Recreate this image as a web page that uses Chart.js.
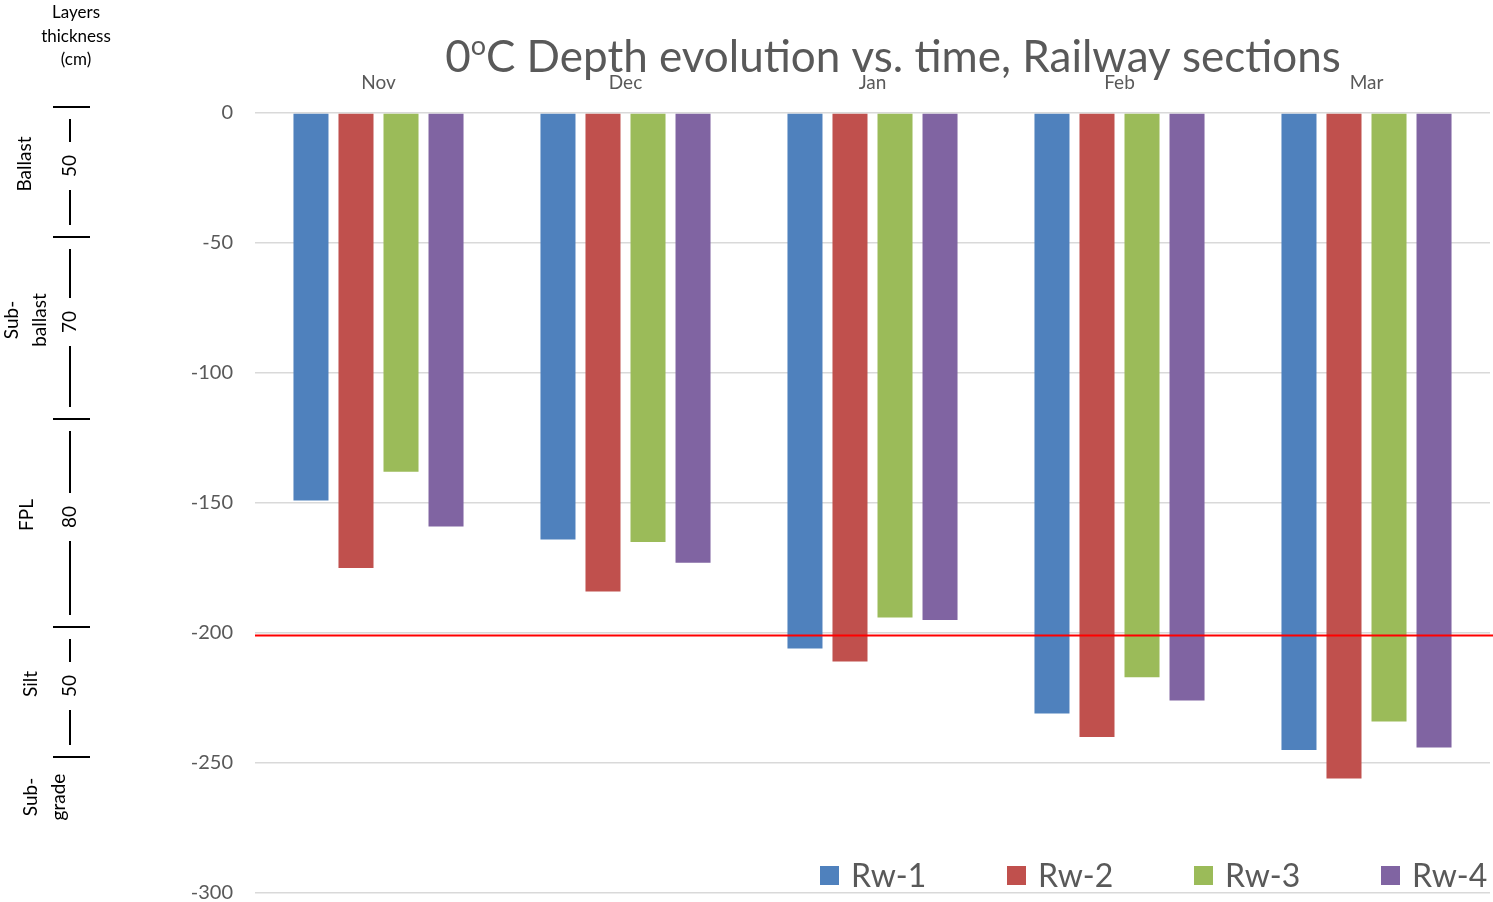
<!DOCTYPE html>
<html>
<head>
<meta charset="utf-8">
<script src="https://cdn.jsdelivr.net/npm/chart.js@4.4.1/dist/chart.umd.min.js"></script>
<style>
html,body{margin:0;padding:0;background:#fff}
#wrap{width:1493px;height:902px}
</style>
</head>
<body>
<div id="wrap"><canvas id="c" width="1493" height="902"></canvas></div>
<script>
// data (cm, negative = depth below surface)
const months=['Nov','Dec','Jan','Feb','Mar'];
const rw1=[-149,-164,-206,-231,-245];
const rw2=[-175,-184,-211,-240,-256];
const rw3=[-138,-165,-194,-217,-234];
const rw4=[-159,-173,-195,-226,-244];
const seriesNames=['Rw-1','Rw-2','Rw-3','Rw-4'];
const seriesColors=['#4F81BD','#C0504D','#9BBB59','#8064A2'];
const yMin=-300, yMax=0, yStep=50;
const frostLine=-201;
// layer panel on the left
const layerNames=[['Ballast'],['Sub-','ballast'],['FPL'],['Silt'],['Sub-','grade']];
const layerThick=[50,70,80,50];

const FONT='Lato, "Open Sans", sans-serif';
const GREY='#595959';

// title with superscript o
const titlePlugin={id:'title0',afterDraw(ch){
  const ctx=ch.ctx;ctx.save();ctx.fillStyle=GREY;ctx.textBaseline='alphabetic';
  const big='44px '+FONT, small='27px '+FONT;
  const parts=[['0',big,0],['o',small,-17],['C Depth evolution vs. time, Railway sections',big,0]];
  let w=0;for(const p of parts){ctx.font=p[1];w+=ctx.measureText(p[0]).width;}
  let x=893-w/2;
  for(const p of parts){ctx.font=p[1];ctx.textAlign='left';ctx.fillText(p[0],x,72+p[2]);x+=ctx.measureText(p[0]).width;}
  ctx.restore();
}};

// freezing reference line
const linePlugin={id:'frost',afterDatasetsDraw(ch){
  const y=ch.scales.y.getPixelForValue(frostLine);const ctx=ch.ctx;
  ctx.save();ctx.strokeStyle='#FF0000';ctx.lineWidth=2;ctx.beginPath();ctx.moveTo(ch.chartArea.left,y);ctx.lineTo(ch.width,y);ctx.stroke();ctx.restore();
}};

// legend inside bottom of plot
const legendPlugin={id:'leg',afterDraw(ch){
  const ctx=ch.ctx;ctx.save();ctx.font='32px '+FONT;ctx.textBaseline='alphabetic';ctx.textAlign='left';
  ch.data.datasets.forEach((ds,i)=>{
    const x=820+i*187;
    ctx.fillStyle=ds.backgroundColor;ctx.fillRect(x,866,19,19);
    ctx.fillStyle=GREY;ctx.fillText(ds.label,x+31,887);
  });
  ctx.restore();
}};

// layers thickness panel
const panelPlugin={id:'panel',afterDraw(ch){
  const ctx=ch.ctx,ys=ch.scales.y;ctx.save();ctx.fillStyle='#000';ctx.strokeStyle='#000';ctx.lineWidth=2;
  ctx.font='17px '+FONT;ctx.textAlign='center';ctx.textBaseline='middle';
  ['Layers','thickness','(cm)'].forEach((t,i)=>ctx.fillText(t,76,13+i*23.5));
  const bounds=[0];layerThick.forEach(t=>bounds.push(bounds[bounds.length-1]+t));
  const py=d=>ys.getPixelForValue(-d)-6;
  const lx=70;
  bounds.forEach(b=>{ctx.beginPath();ctx.moveTo(53,py(b));ctx.lineTo(90,py(b));ctx.stroke();});
  ctx.font='19px '+FONT;
  const rot=(t,x,y)=>{ctx.save();ctx.translate(x,y);ctx.rotate(-Math.PI/2);ctx.fillText(t,0,0);ctx.restore();};
  layerThick.forEach((t,i)=>{
    const a=py(bounds[i]),b=py(bounds[i+1]),m=(a+b)/2-6;
    rot(String(t),lx,m);
    ctx.beginPath();ctx.moveTo(lx,a+12);ctx.lineTo(lx,m-24);ctx.moveTo(lx,m+24);ctx.lineTo(lx,b-12);ctx.stroke();
  });
  const lblX=[25,26,27,31,45];
  layerNames.forEach((n,i)=>{
    let m;
    if(i<layerThick.length)m=(py(bounds[i])+py(bounds[i+1]))/2-8;
    else m=py(bounds[i])+40;
    n.forEach((s,k)=>rot(s,lblX[i]-(n.length-1)*14+k*28,m));
  });
  ctx.restore();
}};

new Chart(document.getElementById('c'),{
  type:'bar',
  data:{labels:months,datasets:[rw1,rw2,rw3,rw4].map((d,i)=>({label:seriesNames[i],data:d,backgroundColor:seriesColors[i],categoryPercentage:0.729,barPercentage:0.778}))},
  options:{responsive:false,animation:false,
    layout:{autoPadding:false,padding:{top:0,left:0,right:3,bottom:9}},
    plugins:{legend:{display:false},tooltip:{enabled:false},title:{display:false}},
    scales:{
      x:{position:'top',grid:{display:false},border:{display:false},
        ticks:{color:GREY,font:{family:FONT,size:19},padding:11},
        afterFit:s=>{s.height=113;s.paddingLeft=0;s.paddingRight=0;}},
      y:{min:yMin,max:yMax,border:{display:false},
        grid:{color:'#D9D9D9',lineWidth:1.5,drawTicks:false},
        ticks:{stepSize:yStep,color:GREY,font:{family:FONT,size:20},padding:22},
        afterFit:s=>{s.width=255;s.paddingTop=0;s.paddingBottom=0;}}
    }
  },
  plugins:[titlePlugin,linePlugin,legendPlugin,panelPlugin]
});
</script>
</body>
</html>
